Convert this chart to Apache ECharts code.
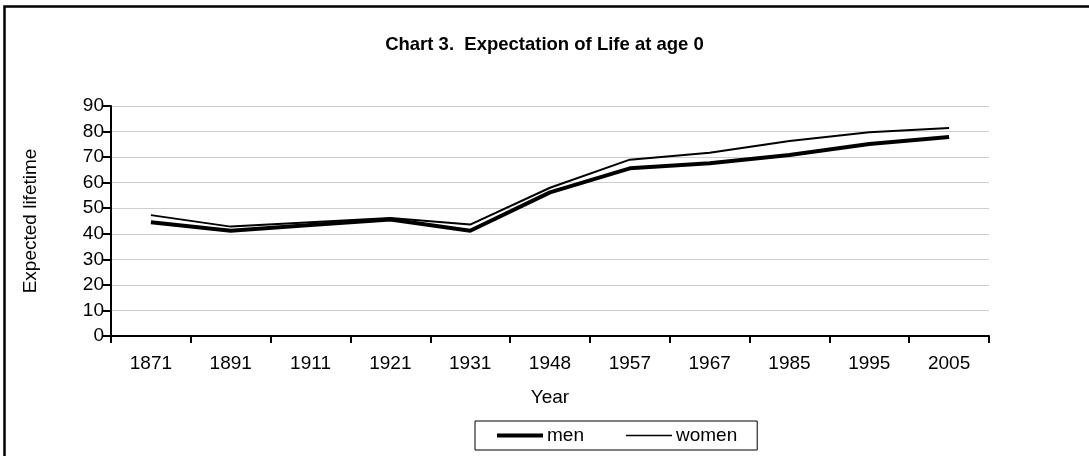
<!DOCTYPE html>
<html>
<head>
<meta charset="utf-8">
<script src="https://cdn.jsdelivr.net/npm/echarts@6/dist/echarts.min.js"></script>
<style>
  html, body { margin: 0; padding: 0; background: #fff; }
  #chart { width: 1089px; height: 456px; }
</style>
</head>
<body>
<div id="chart"></div>
<script>
// 数据
const years = ['1871', '1891', '1911', '1921', '1931', '1948', '1957', '1967', '1985', '1995', '2005'];
const men = [44.5, 41.2, 43.4, 45.6, 41.2, 56.2, 65.6, 67.6, 70.8, 75.1, 77.9];
const women = [47.3, 42.8, 44.5, 46.2, 43.6, 58.0, 69.0, 71.7, 76.3, 79.7, 81.4];

const font = 'Liberation Sans, Arial, sans-serif';
const fs = 19;

const mychart = echarts.init(document.getElementById('chart'));
mychart.setOption({
    animation: false,
    backgroundColor: '#fff',
    textStyle: { fontFamily: font, color: '#000' },
    // 外框 (只有上边和左边)
    graphic: [{
        type: 'polyline',
        shape: { points: [[4.5, 456], [4.5, 6.5], [1089, 6.5]] },
        style: { fill: 'none', stroke: '#000', lineWidth: 2.5 },
        silent: true
    }],
    title: {
        text: 'Chart 3.  Expectation of Life at age 0',
        left: 'center',
        top: 30,
        textStyle: { fontFamily: font, fontSize: 18.5, fontWeight: 'bold', color: '#000' }
    },
    legend: {
        left: 475,
        top: 421,
        borderColor: '#000',
        borderWidth: 1,
        padding: [5, 20, 5, 22],
        itemWidth: 46,
        itemHeight: 14,
        itemGap: 42,
        textStyle: { fontFamily: font, fontSize: fs, color: '#000', padding: [0, 0, 0, -1] },
        data: [
            { name: 'men', icon: 'path://M0,0 L46,0 L46,4 L0,4 Z', itemStyle: { color: '#000' } },
            { name: 'women', icon: 'path://M0,0 L46,0 L46,1.6 L0,1.6 Z', itemStyle: { color: '#000' } }
        ]
    },
    grid: { left: 111, right: 100, top: 106, bottom: 120 },
    xAxis: {
        type: 'category',
        data: years,
        boundaryGap: true,
        name: 'Year',
        nameLocation: 'middle',
        nameGap: 52,
        nameTextStyle: { fontFamily: font, fontSize: fs, color: '#000' },
        axisLine: { lineStyle: { color: '#000', width: 2 } },
        axisTick: { show: true, length: 7, lineStyle: { color: '#000', width: 2 } },
        axisLabel: { fontFamily: font, fontSize: fs, color: '#000', margin: 18 }
    },
    yAxis: {
        type: 'value',
        min: 0,
        max: 90,
        interval: 10,
        name: 'Expected lifetime',
        nameLocation: 'middle',
        nameGap: 71,
        nameTextStyle: { fontFamily: font, fontSize: fs, color: '#000' },
        axisLine: { show: true, lineStyle: { color: '#000', width: 2 } },
        axisTick: { show: true, length: 8, lineStyle: { color: '#000', width: 2 } },
        axisLabel: { fontFamily: font, fontSize: fs, color: '#000', margin: 7 },
        splitLine: { lineStyle: { color: '#cfcfcf', width: 1 } }
    },
    series: [
        {
            name: 'men',
            type: 'line',
            data: men,
            symbol: 'none',
            lineStyle: { color: '#000', width: 4 },
            itemStyle: { color: '#000' }
        },
        {
            name: 'women',
            type: 'line',
            data: women,
            symbol: 'none',
            lineStyle: { color: '#000', width: 2 },
            itemStyle: { color: '#000' }
        }
    ]
});

window.addEventListener('resize', () => {
    mychart.resize();
});
</script>
</body>
</html>
